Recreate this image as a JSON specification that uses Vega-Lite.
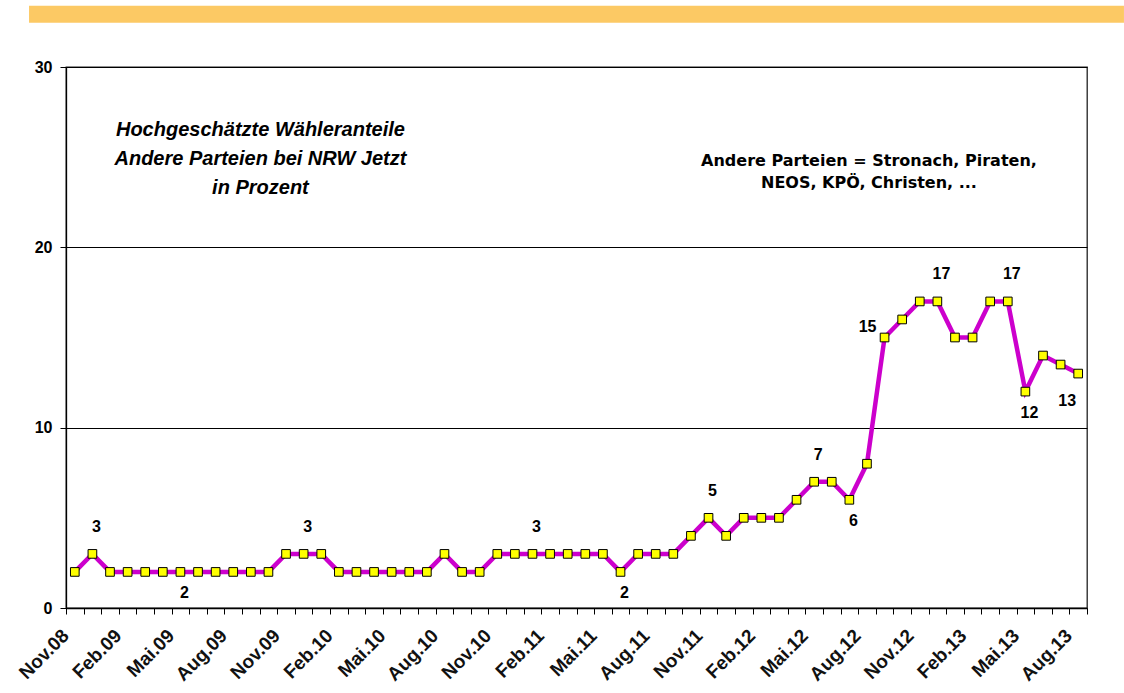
{
  "$schema": "https://vega.github.io/schema/vega-lite/v6.json",
  "width": 1021,
  "height": 541,
  "autosize": {"type": "none"},
  "padding": {"left": 66, "top": 67, "right": 37, "bottom": 85},
  "background": "white",
  "config": {
    "view": {"stroke": "#222222", "strokeWidth": 1.3},
    "font": "Liberation Sans"
  },
  "datasets": {
    "poll": [
      {"m": "Nov.08", "v": 2}, {"m": "Dez.08", "v": 3},
      {"m": "Jan.09", "v": 2}, {"m": "Feb.09", "v": 2}, {"m": "Mär.09", "v": 2}, {"m": "Apr.09", "v": 2},
      {"m": "Mai.09", "v": 2}, {"m": "Jun.09", "v": 2}, {"m": "Jul.09", "v": 2}, {"m": "Aug.09", "v": 2},
      {"m": "Sep.09", "v": 2}, {"m": "Okt.09", "v": 2}, {"m": "Nov.09", "v": 3}, {"m": "Dez.09", "v": 3},
      {"m": "Jan.10", "v": 3}, {"m": "Feb.10", "v": 2}, {"m": "Mär.10", "v": 2}, {"m": "Apr.10", "v": 2},
      {"m": "Mai.10", "v": 2}, {"m": "Jun.10", "v": 2}, {"m": "Jul.10", "v": 2}, {"m": "Aug.10", "v": 3},
      {"m": "Sep.10", "v": 2}, {"m": "Okt.10", "v": 2}, {"m": "Nov.10", "v": 3}, {"m": "Dez.10", "v": 3},
      {"m": "Jan.11", "v": 3}, {"m": "Feb.11", "v": 3}, {"m": "Mär.11", "v": 3}, {"m": "Apr.11", "v": 3},
      {"m": "Mai.11", "v": 3}, {"m": "Jun.11", "v": 2}, {"m": "Jul.11", "v": 3}, {"m": "Aug.11", "v": 3},
      {"m": "Sep.11", "v": 3}, {"m": "Okt.11", "v": 4}, {"m": "Nov.11", "v": 5}, {"m": "Dez.11", "v": 4},
      {"m": "Jan.12", "v": 5}, {"m": "Feb.12", "v": 5}, {"m": "Mär.12", "v": 5}, {"m": "Apr.12", "v": 6},
      {"m": "Mai.12", "v": 7}, {"m": "Jun.12", "v": 7}, {"m": "Jul.12", "v": 6}, {"m": "Aug.12", "v": 8},
      {"m": "Sep.12", "v": 15}, {"m": "Okt.12", "v": 16}, {"m": "Nov.12", "v": 17}, {"m": "Dez.12", "v": 17},
      {"m": "Jan.13", "v": 15}, {"m": "Feb.13", "v": 15}, {"m": "Mär.13", "v": 17}, {"m": "Apr.13", "v": 17},
      {"m": "Mai.13", "v": 12}, {"m": "Jun.13", "v": 14}, {"m": "Jul.13", "v": 13.5}, {"m": "Aug.13", "v": 13}
    ],
    "band": [{"bx": -0.0362, "bx2": 1.0362, "by": 32.45, "by2": 33.4}],
    "notes": [
      {"kind": "title", "m": "Okt.09", "yv": 26.51, "t": ["Hochgeschätzte Wähleranteile", "Andere Parteien bei NRW Jetzt", "in Prozent"]},
      {"kind": "note", "m": "Aug.12", "yv": 24.79, "t": ["Andere Parteien = Stronach, Piraten,", "NEOS, KPÖ, Christen, ..."]}
    ]
  },
  "resolve": {"scale": {"x": "independent"}},
  "layer": [
    {
      "data": {"name": "band"},
      "mark": {"type": "rect", "color": "#FCC964", "clip": false},
      "encoding": {
        "x": {"field": "bx", "type": "quantitative", "scale": {"domain": [0, 1], "nice": false, "zero": false}, "axis": null},
        "x2": {"field": "bx2"},
        "y": {"field": "by", "type": "quantitative", "scale": {"domain": [0, 30], "nice": false}},
        "y2": {"field": "by2"}
      }
    },
    {
      "data": {"name": "poll"},
      "encoding": {
        "x": {
          "field": "m", "type": "ordinal", "bandPosition": 0.5,
          "scale": {
            "type": "band", "paddingInner": 0, "paddingOuter": 0,
            "domain": ["Nov.08","Dez.08","Jan.09","Feb.09","Mär.09","Apr.09","Mai.09","Jun.09","Jul.09","Aug.09","Sep.09","Okt.09","Nov.09","Dez.09","Jan.10","Feb.10","Mär.10","Apr.10","Mai.10","Jun.10","Jul.10","Aug.10","Sep.10","Okt.10","Nov.10","Dez.10","Jan.11","Feb.11","Mär.11","Apr.11","Mai.11","Jun.11","Jul.11","Aug.11","Sep.11","Okt.11","Nov.11","Dez.11","Jan.12","Feb.12","Mär.12","Apr.12","Mai.12","Jun.12","Jul.12","Aug.12","Sep.12","Okt.12","Nov.12","Dez.12","Jan.13","Feb.13","Mär.13","Apr.13","Mai.13","Jun.13","Jul.13","Aug.13"]
          },
          "axis": {
            "title": null, "labelAngle": -45, "labelFontSize": 19, "labelFontWeight": "bold", "labelColor": "#111111",
            "labelPadding": 12, "labelOffset": -16, "tickBand": "extent", "tickSize": 6,
            "tickColor": "#000000", "domainColor": "#000000", "domainWidth": 1.3, "grid": false,
            "labelOverlap": false,
            "labelExpr": "indexof(['Nov','Feb','Mai','Aug'], slice(datum.label, 0, 3)) >= 0 ? datum.label : ''"
          }
        },
        "y": {
          "field": "v", "type": "quantitative",
          "scale": {"domain": [0, 30], "nice": false},
          "axis": {
            "title": null, "values": [0, 10, 20, 30], "grid": true, "gridColor": "#000000", "gridWidth": 1,
            "labelFontSize": 16, "labelFontWeight": "bold", "labelColor": "#000000", "labelPadding": 8,
            "tickSize": 6, "tickColor": "#000000", "domainColor": "#000000", "domainWidth": 1.3
          }
        }
      },
      "layer": [
        {"mark": {"type": "line", "color": "#CC00CC", "strokeWidth": 4.5}},
        {"mark": {"type": "point", "shape": "square", "size": 75, "filled": true, "fill": "#FFFF00", "stroke": "#000000", "strokeWidth": 1, "opacity": 1}},
        {
          "transform": [{"filter": "indexof(['Dez.08','Dez.09','Jan.11','Nov.11','Mai.12','Dez.12','Apr.13'], datum.m) >= 0"}],
          "mark": {"type": "text", "fontSize": 16, "fontWeight": "bold", "color": "#000000", "dy": -27, "dx": 4, "baseline": "middle"},
          "encoding": {"text": {"field": "v", "type": "quantitative"}}
        },
        {
          "transform": [{"filter": "indexof(['Mai.09','Jun.11','Jul.12','Mai.13'], datum.m) >= 0"}],
          "mark": {"type": "text", "fontSize": 16, "fontWeight": "bold", "color": "#000000", "dy": 21, "dx": 4, "baseline": "middle"},
          "encoding": {"text": {"field": "v", "type": "quantitative"}}
        },
        {
          "transform": [{"filter": "datum.m == 'Sep.12'"}],
          "mark": {"type": "text", "fontSize": 16, "fontWeight": "bold", "color": "#000000", "dy": -11, "dx": -17, "baseline": "middle"},
          "encoding": {"text": {"field": "v", "type": "quantitative"}}
        },
        {
          "transform": [{"filter": "datum.m == 'Aug.13'"}],
          "mark": {"type": "text", "fontSize": 16, "fontWeight": "bold", "color": "#000000", "dy": 27, "dx": -11, "baseline": "middle"},
          "encoding": {"text": {"field": "v", "type": "quantitative"}}
        }
      ]
    },
    {
      "data": {"name": "notes"},
      "transform": [{"filter": "datum.kind == 'title'"}],
      "mark": {"type": "text", "font": "Liberation Sans", "fontSize": 20, "fontWeight": "bold", "fontStyle": "italic", "color": "#000000", "align": "center", "baseline": "middle", "lineHeight": 29, "dx": -8},
      "encoding": {
        "x": {"field": "m", "type": "ordinal", "bandPosition": 0.5, "scale": {"type": "band", "paddingInner": 0, "paddingOuter": 0, "domain": ["Nov.08","Dez.08","Jan.09","Feb.09","Mär.09","Apr.09","Mai.09","Jun.09","Jul.09","Aug.09","Sep.09","Okt.09","Nov.09","Dez.09","Jan.10","Feb.10","Mär.10","Apr.10","Mai.10","Jun.10","Jul.10","Aug.10","Sep.10","Okt.10","Nov.10","Dez.10","Jan.11","Feb.11","Mär.11","Apr.11","Mai.11","Jun.11","Jul.11","Aug.11","Sep.11","Okt.11","Nov.11","Dez.11","Jan.12","Feb.12","Mär.12","Apr.12","Mai.12","Jun.12","Jul.12","Aug.12","Sep.12","Okt.12","Nov.12","Dez.12","Jan.13","Feb.13","Mär.13","Apr.13","Mai.13","Jun.13","Jul.13","Aug.13"]}, "axis": null},
        "y": {"field": "yv", "type": "quantitative", "scale": {"domain": [0, 30], "nice": false}},
        "text": {"field": "t"}
      }
    },
    {
      "data": {"name": "notes"},
      "transform": [{"filter": "datum.kind == 'note'"}],
      "mark": {"type": "text", "font": "DejaVu Sans", "fontSize": 16, "fontWeight": "bold", "color": "#000000", "align": "center", "baseline": "middle", "lineHeight": 22, "dx": 2},
      "encoding": {
        "x": {"field": "m", "type": "ordinal", "bandPosition": 0.5, "scale": {"type": "band", "paddingInner": 0, "paddingOuter": 0, "domain": ["Nov.08","Dez.08","Jan.09","Feb.09","Mär.09","Apr.09","Mai.09","Jun.09","Jul.09","Aug.09","Sep.09","Okt.09","Nov.09","Dez.09","Jan.10","Feb.10","Mär.10","Apr.10","Mai.10","Jun.10","Jul.10","Aug.10","Sep.10","Okt.10","Nov.10","Dez.10","Jan.11","Feb.11","Mär.11","Apr.11","Mai.11","Jun.11","Jul.11","Aug.11","Sep.11","Okt.11","Nov.11","Dez.11","Jan.12","Feb.12","Mär.12","Apr.12","Mai.12","Jun.12","Jul.12","Aug.12","Sep.12","Okt.12","Nov.12","Dez.12","Jan.13","Feb.13","Mär.13","Apr.13","Mai.13","Jun.13","Jul.13","Aug.13"]}, "axis": null},
        "y": {"field": "yv", "type": "quantitative", "scale": {"domain": [0, 30], "nice": false}},
        "text": {"field": "t"}
      }
    }
  ]
}
